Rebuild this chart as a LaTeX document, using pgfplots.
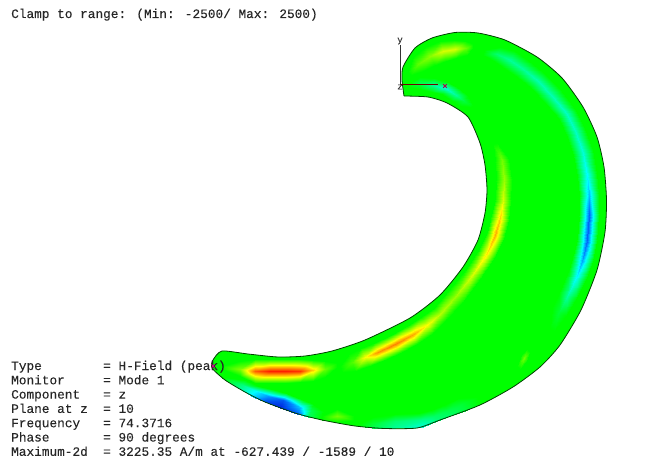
\documentclass[border=0pt]{standalone}
\usepackage{fontspec}
\setmainfont[FakeBold=0.12]{Liberation Mono}
\usepackage{pgfplots}
\pgfplotsset{compat=1.18}
\definecolor{g0}{HTML}{00FF00}
\pgfplotsset{fld/.style={surf,shader=interp,mesh/cols=3,forget plot,point meta=explicit}}
\newcommand\lab[3]{%
  \node[anchor=base west,inner sep=0pt,text=black!85,font=\fontsize{12.77}{14}\selectfont] at (axis cs:11,#1) {#2};
  \node[anchor=base west,inner sep=0pt,text=black!85,font=\fontsize{12.77}{14}\selectfont] at (axis cs:103,#1) {= #3};}
\begin{document}
\begin{tikzpicture}
\begin{axis}[
  scale only axis,width=655pt,height=462pt,
  xmin=0,xmax=655,ymin=0,ymax=462,y dir=reverse,
  hide axis,clip=false,
  point meta min=-1,point meta max=1,
  colormap={cst}{rgb255(0)=(0,32,220) rgb255(1)=(0,128,255) rgb255(2)=(0,255,255) rgb255(4)=(0,255,0) rgb255(6)=(255,255,0) rgb255(7)=(255,140,0) rgb255(8)=(255,30,0)}]
\path (axis cs:0,0) rectangle (axis cs:655,462);
% body of the field
\addplot[fill=g0,draw=none,smooth,tension=0.4,forget plot] coordinates {
 (404,96)(402,80)(403,67)(415,48)(432,38)(455,32.5)(478,33)(505,40)(537,57)(562,78)(583,107)(597,137)(604,167)(606.5,200)(605,232)(597,270)(581,310)(560,345)(540,367)(513,387)(480,405)(440,420)(417,428)(385,428.5)(355,426)(322,420)(295,413)(265,402)(245,392)(225,380)(212,368)(213,360)(222,351)(248,354)(278,357)(305,356)(332,351)(365,340)(410,318)(440,295)(463,267)(478,240)(485,213)(487,190)(485,165)(480,143)(468,117)(447,103)(428,97)(404,96)};
% bottom band, blue part
\addplot[fld] table[meta=v] {
x y v
223.4 375.3 0
222.7 376.7 0
222 378 0
245 380 0
242.5 384.5 -0.25
240 389 -0.3
258 386 0
255.5 391 -0.5
253 396.5 -0.6
271 389 0
268 395.5 -0.7
265 402 -0.9
286 393 0
283 400 -0.85
280 407.5 -1
303 400 0
300 407 -0.6
297 413.5 -0.85
313 403.5 0
310.5 410 -0.15
308 416.5 -0.2
324 412 0
322 415.5 0
320 419 0
};
% bottom band, cyan part
\addplot[fld] table[meta=v] {
x y v
359 422 0
358.5 424 0
358 426 0
373 417 0
372.5 423 -0.1
372 427.8 -0.15
395 414 0
395 421 -0.22
395 428.3 -0.3
419 413 0
421 420 -0.28
423 426.5 -0.42
431 410 0
434 416 -0.2
437 421 -0.25
444 405 0
447 411 -0.15
450 416 -0.2
459 398 0
462 403.5 -0.1
465 410.5 -0.12
477 397 0
478.5 400 0
480 404 0
};
% red band, lower left
\addplot[fld] table[meta=v] {
x y v
222 362 0
222 365.5 0
222 369 0
240 361 0
240 368.5 0.25
240 376 0
255 358.5 0
255 370.5 0.85
255 382.5 0
270 358.5 0
270 370.5 1
270 382.5 0
285 358.5 0
285 370.5 1
285 382.5 0
300 359 0
300 370.5 0.95
300 382 0
313 359.5 0
313 370 0.6
313 380.5 0
325 361 0
325 369 0.2
325 377 0
337 363 0
337 367 0
337 371 0
};
% inner band, centre
\addplot[fld] table[meta=v] {
x y v
338.1 360.3 0
340 366 0
341.9 371.7 0
348.9 353.5 0
352 362 0.15
355.1 370.5 0
361.4 347.7 0
365 357 0.5
368.6 366.3 0
374 342.8 0
378 352 0.74
382 361.2 0
390.5 335.1 0
395 344 0.78
399.5 352.9 0
406.9 326.4 0
412 335 0.7
417.1 343.6 0
421 317 0
427 325 0.5
433 333 0
433.6 307.6 0
440 314 0.35
446.4 320.4 0
448.1 291.2 0
455 297 0.3
461.9 302.8 0
465.7 268.7 0
473 274 0.42
480.3 279.3 0
479.2 248.6 0
487 253 0.55
494.8 257.4 0
486.5 231.8 0
495 235 0.68
503.5 238.2 0
491.3 216 0
500 218 0.6
508.7 220 0
495 199.2 0
503 200 0.42
511 200.8 0
496 180.2 0
504 180 0.3
512 179.8 0
495.1 161.3 0
502 160 0.22
508.9 158.7 0
493.2 144.2 0
497 143 0
500.8 141.8 0
};
% outer band, right side
\addplot[fld] table[meta=v] {
x y v
545.7 325.4 0
550 328 0
554.3 330.6 0
552 308.2 0
559 312 -0.1
566 315.8 0
558.9 293 0
567 297 -0.3
575.1 301 0
568.7 269.2 0
578 273 -0.55
587.3 276.8 0
573.4 255.4 0
583 258 -0.7
592.6 260.6 0
577.1 238.6 0
587 240 -0.82
596.9 241.4 0
579 214.6 0
589 215 -0.82
599 215.4 0
579 195.5 0
589 195 -0.62
599 194.5 0
577.1 176.4 0
587 175 -0.5
596.9 173.6 0
573.3 155.5 0
583 153 -0.42
592.7 150.5 0
566.7 136.8 0
576 133 -0.38
585.3 129.2 0
558.6 119.4 0
567 114 -0.38
575.4 108.6 0
544.5 102.6 0
552 96 -0.35
559.5 89.4 0
530.2 87.3 0
537 80 -0.34
543.8 72.7 0
517 77 0
523 69 -0.3
529 61 0
505 68.7 0
510 60 -0.3
515 51.3 0
494.1 61.4 0
497 54 -0.22
499.9 46.6 0
482.5 54.8 0
484 50 0
485.5 45.2 0
};
% top yellow band
\addplot[fld] table[meta=v] {
x y v
405.5 68.9 0
408 72 0
410.5 75.1 0
412.7 56.7 0
418 64 0.18
423.3 71.3 0
425.4 47.1 0
430 56 0.27
434.6 64.9 0
440.3 41.4 0
443 51 0.42
445.7 60.6 0
453.8 40.1 0
455 49 0.42
456.2 57.9 0
465.5 41 0
466 48 0.2
466.5 55 0
473 44 0
473 48 0
473 52 0
};
% cyan near the triad
\addplot[fld] table[meta=v] {
x y v
408 81 0
408 84 0
408 87 0
420 77 0
420 83 -0.15
420 89 0
433.7 78 0
433 85 -0.3
432.3 92 0
447.8 81.6 0
445 88 -0.42
442.2 94.4 0
459.9 89.2 0
456 95 -0.3
452.1 100.8 0
467.7 96.3 0
464 101 -0.12
460.3 105.7 0
473 105 0
471 107 0
469 109 0
};
% small faint patches
\addplot[fld] table[meta=v] {
x y v
322 413 0
322 416 0
322 419.5 0
337 409 0
337 416 0.22
337 422 0
354 416 0
354 420 0
354 425 0
};
\addplot[fld] table[meta=v] {
x y v
514 363 0
517 366 0
520 369 0
521 355 0
524 358 0.22
527 361 0
527 349 0
530 352 0
533 355 0
};
% outline
\addplot[draw=black!75!green,line width=0.8pt,smooth,tension=0.4,forget plot] coordinates {
 (404,96)(402,80)(403,67)(415,48)(432,38)(455,32.5)(478,33)(505,40)(537,57)(562,78)(583,107)(597,137)(604,167)(606.5,200)(605,232)(597,270)(581,310)(560,345)(540,367)(513,387)(480,405)(440,420)(417,428)(385,428.5)(355,426)(322,420)(295,413)(265,402)(245,392)(225,380)(212,368)(213,360)(222,351)(248,354)(278,357)(305,356)(332,351)(365,340)(410,318)(440,295)(463,267)(478,240)(485,213)(487,190)(485,165)(480,143)(468,117)(447,103)(428,97)(404,96)};
% triad
\addplot[draw=black!80,line width=1pt,forget plot] coordinates {(400,84)(400,45)};
\addplot[draw=black!55!red,line width=1pt,forget plot] coordinates {(400,84.3)(438,84.3)};
\addplot[only marks,mark=x,mark size=2.5pt,draw=red!70!blue,line width=0.8pt,forget plot] coordinates {(445,86)};
\addplot[only marks,mark=x,mark size=2.2pt,draw=magenta!80!blue,line width=0.8pt,forget plot] coordinates {(213,366)};
\node[inner sep=0pt,font=\fontsize{9}{10}\selectfont,text=black!80] at (axis cs:400,41) {y};
\node[inner sep=0pt,font=\fontsize{9}{10}\selectfont,text=black!80] at (axis cs:400,87) {z};
% text
\node[anchor=base west,inner sep=0pt,text=black!85,font=\fontsize{12.77}{14}\selectfont] at (axis cs:11,18) {Clamp to range: (Min: -2500/ Max: 2500)};
\lab{370}{Type}{H-Field (peak)}
\lab{384.3}{Monitor}{Mode 1}
\lab{398.6}{Component}{z}
\lab{412.9}{Plane at z}{10}
\lab{427.2}{Frequency}{74.3716}
\lab{441.5}{Phase}{90 degrees}
\lab{455.8}{Maximum-2d}{3225.35 A/m at -627.439 / -1589 / 10}
\end{axis}
\end{tikzpicture}
\end{document}
